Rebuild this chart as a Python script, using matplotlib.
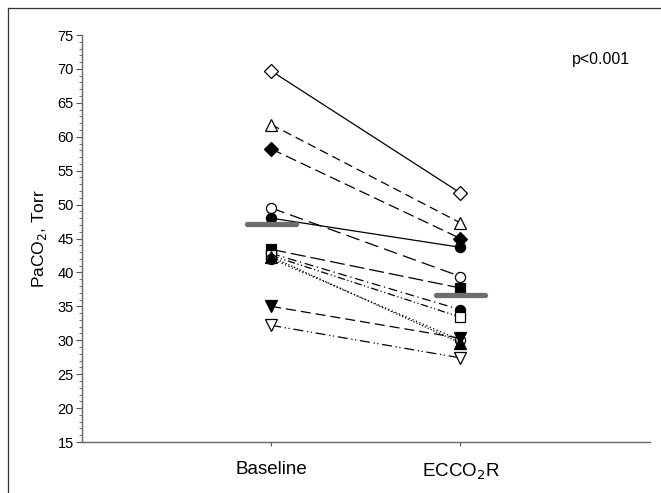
import matplotlib
matplotlib.use("Agg")
import matplotlib.pyplot as plt
from matplotlib.lines import Line2D
from matplotlib.ticker import MultipleLocator

plt.rcParams['font.family'] = ['Liberation Sans', 'DejaVu Sans']

categories = ['Baseline', r'ECCO$_2$R']
baseline = [69.7, 61.8, 58.2, 49.5, 48.0, 43.4, 42.8, 42.5, 42.0, 42.3, 35.0, 32.2]
ecco2r   = [51.7, 47.3, 45.0, 39.4, 43.7, 37.7, 34.5, 33.4, 30.0, 29.6, 30.3, 27.4]
markers  = ['D', '^', 'D', 'o', 'o', 's', 'o', 's', 'o', '^', 'v', 'v']
filled   = [False, False, True, False, True, True, True, False, False, True, True, False]
styles   = ['-', (0, (7, 4)), (0, (9, 4)), (0, (11, 5)), '-', (0, (12, 4)),
            (0, (7, 3, 1, 3)), (0, (6, 2, 1, 2, 1, 2)), (0, (1, 2)), (0, (1, 1.5)),
            (0, (8, 4)), (0, (8, 3, 1, 2, 1, 3))]
means = [47.1, 36.6]
yticks = list(range(15, 80, 5))

fig = plt.figure(figsize=(6.61, 4.93), dpi=100)
ax = fig.add_axes([0.124, 0.1034, 0.859, 0.8256])

xs = [1, 2]
for b, e, m, f, ls in zip(baseline, ecco2r, markers, filled, styles):
    ms = {'D': 7, 'o': 7.3, 's': 7, '^': 8, 'v': 8}[m]
    ax.plot(xs, [b, e], color='black', lw=0.9, linestyle=ls, marker=m,
            markersize=ms, markerfacecolor='black' if f else 'white',
            markeredgecolor='black', markeredgewidth=0.9, zorder=3)

for x, mval in zip(xs, means):
    ax.plot([x - 0.13, x + 0.13], [mval, mval], color='#6e6e6e', lw=3.8,
            solid_capstyle='round', zorder=4)

ax.set_xlim(0, 3)
ax.set_ylim(15, 75)
ax.set_xticks(xs)
ax.set_xticklabels(categories, fontsize=13.5)
ax.set_yticks(yticks)
ax.set_yticklabels([str(t) for t in yticks], fontsize=10.5)
ax.yaxis.set_minor_locator(MultipleLocator(1))
ax.tick_params(axis='y', which='major', length=4, width=0.8, color='#555555', pad=2)
ax.tick_params(axis='y', which='minor', length=2, width=0.6, color='#555555')
ax.tick_params(axis='x', which='major', length=3, width=0.8, color='#555555', pad=11)
for s in ['top', 'right']:
    ax.spines[s].set_visible(False)
for s in ['left', 'bottom']:
    ax.spines[s].set_color('#666666')
    ax.spines[s].set_linewidth(1.0)
ax.set_ylabel(r'PaCO$_2$, Torr', fontsize=12.5, labelpad=6)
ax.text(0.966, 0.94, 'p<0.001', transform=ax.transAxes, ha='right', va='center', fontsize=11.5)

# outer frame (left & top edges)
fig.add_artist(Line2D([8/661, 8/661], [0, 1 - 8/493], transform=fig.transFigure, color='#333333', lw=0.9))
fig.add_artist(Line2D([8/661, 1], [1 - 8/493, 1 - 8/493], transform=fig.transFigure, color='#333333', lw=0.9))

fig.savefig('out.png', dpi=100)
